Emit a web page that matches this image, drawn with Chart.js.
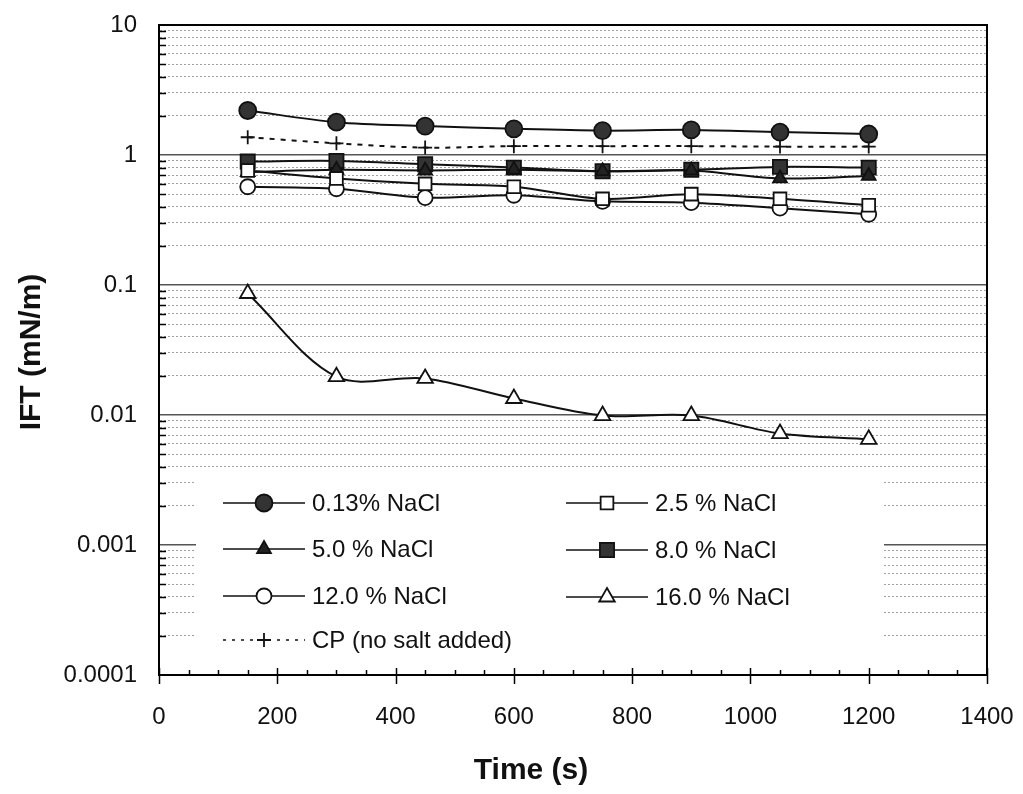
<!DOCTYPE html>
<html>
<head>
<meta charset="utf-8">
<script src="https://cdn.jsdelivr.net/npm/chart.js@4.4.1/dist/chart.umd.min.js"></script>
<style>
  html, body { margin: 0; padding: 0; background: #fff; }
  canvas { display: block; }
</style>
</head>
<body>
<canvas id="ift" width="1023" height="794"></canvas>
<script>
// time of measurement (s)
const times = [150, 300, 450, 600, 750, 900, 1050, 1200];

// IFT (mN/m) for each brine
const nacl013 = [2.20, 1.79, 1.67, 1.59, 1.54, 1.56, 1.50, 1.45];
const nacl25 = [0.76, 0.66, 0.60, 0.57, 0.46, 0.50, 0.46, 0.41];
const nacl50 = [0.74, 0.77, 0.76, 0.77, 0.75, 0.76, 0.66, 0.69];
const nacl80 = [0.89, 0.90, 0.85, 0.80, 0.75, 0.77, 0.81, 0.80];
const nacl120 = [0.57, 0.55, 0.47, 0.49, 0.44, 0.43, 0.39, 0.35];
const nacl160 = [0.086, 0.0197, 0.0191, 0.0134, 0.0099, 0.0099, 0.0072, 0.0065];
const cpNoSalt = [1.37, 1.23, 1.14, 1.17, 1.17, 1.17, 1.16, 1.16];

const seriesLabels = ['0.13% NaCl', '2.5 % NaCl', '5.0 % NaCl', '8.0 % NaCl',
  '12.0 % NaCl', '16.0 % NaCl', 'CP (no salt added)'];

// axis ticks
const xTickLabels = ['0', '200', '400', '600', '800', '1000', '1200', '1400'];
const yTickLabels = ['0.0001', '0.001', '0.01', '0.1', '1', '10'];
const yMinorSteps = [2, 3, 4, 5, 6, 7, 8, 9];

const FONT = '"Liberation Sans", Arial, sans-serif';
const INK = '#111';
const CLEAR = 'rgba(0,0,0,0)';

function pts(vals) {
  return times.map((t, i) => ({ x: t, y: vals[i] }));
}

// one dataset, style given per series
function mk(label, vals, style, fill, radius, dash) {
  return {
    label: label,
    data: pts(vals),
    borderColor: INK,
    borderWidth: 2,
    borderDash: dash || [],
    tension: 0.33,
    pointStyle: style,
    pointRadius: radius,
    pointBackgroundColor: fill,
    pointBorderColor: INK,
    pointBorderWidth: 1.8
  };
}

const datasets = [
  mk(seriesLabels[0], nacl013, 'circle', '#333', 8.5),
  mk(seriesLabels[1], nacl25, 'rect', '#fff', 9),
  mk(seriesLabels[2], nacl50, 'triangle', '#222', 8),
  mk(seriesLabels[3], nacl80, 'rect', '#333', 10),
  mk(seriesLabels[4], nacl120, 'circle', '#fff', 7.5),
  mk(seriesLabels[5], nacl160, 'triangle', '#fff', 9),
  mk(seriesLabels[6], cpNoSalt, 'cross', '#fff', 7, [5, 6])
];

// legend slots: [dataset index, column x of marker, row y]
const legendSlots = [
  [0, 264, 503], [2, 264, 549], [4, 264, 596], [6, 264, 640],
  [1, 607, 503], [3, 607, 550], [5, 607, 597]
];

function drawMarker(ctx, ds, x, y) {
  ctx.fillStyle = ds.pointBackgroundColor;
  ctx.strokeStyle = ds.pointBorderColor;
  ctx.lineWidth = ds.pointBorderWidth;
  Chart.helpers.drawPoint(ctx, {
    pointStyle: ds.pointStyle, radius: ds.pointRadius,
    borderWidth: ds.pointBorderWidth, rotation: 0
  }, x, y);
}

const decor = {
  id: 'decor',
  beforeDatasetsDraw(chart) {
    // legend sits on a white box that hides the grid
    const ctx = chart.ctx;
    ctx.save();
    ctx.fillStyle = '#fff';
    ctx.fillRect(196, 476, 688, 188);
    ctx.restore();
  },
  afterDatasetsDraw(chart) {
    const { ctx, chartArea: a, scales: { x, y } } = chart;
    ctx.save();

    // frame
    ctx.strokeStyle = '#000';
    ctx.lineWidth = 2;
    ctx.strokeRect(a.left, a.top, a.right - a.left, a.bottom - a.top);

    // x tick marks: major cross the axis, minor point inward
    ctx.lineWidth = 1.5;
    ctx.beginPath();
    for (let v = 0; v <= 1400; v += 50) {
      const px = Math.round(x.getPixelForValue(v)) + 0.5;
      if (v % 200 === 0) {
        ctx.moveTo(px, a.bottom - 7);
        ctx.lineTo(px, a.bottom + 9);
      } else {
        ctx.moveTo(px, a.bottom - 5);
        ctx.lineTo(px, a.bottom);
      }
    }
    // y minor tick marks point inward
    y.ticks.forEach(t => {
      if (t.major) return;
      const py = Math.round(y.getPixelForValue(t.value)) + 0.5;
      ctx.moveTo(a.left, py);
      ctx.lineTo(a.left + 7, py);
    });
    ctx.stroke();

    // legend
    ctx.font = '24px ' + FONT;
    ctx.textBaseline = 'middle';
    ctx.textAlign = 'left';
    legendSlots.forEach(([i, mx, my]) => {
      const ds = chart.data.datasets[i];
      ctx.save();
      ctx.strokeStyle = INK;
      ctx.lineWidth = 1.6;
      ctx.setLineDash(i === 6 ? [3, 6] : []);
      ctx.beginPath();
      ctx.moveTo(mx - 41, my);
      ctx.lineTo(mx + 41, my);
      ctx.stroke();
      ctx.setLineDash([]);
      drawMarker(ctx, ds, mx, my);
      ctx.restore();
      ctx.fillStyle = INK;
      ctx.fillText(ds.label, mx + 48, my + 1);
    });

    // axis titles
    ctx.font = 'bold 30px ' + FONT;
    ctx.textAlign = 'center';
    ctx.fillText('Time (s)', 531, 771);
    ctx.translate(32, 352);
    ctx.rotate(-Math.PI / 2);
    ctx.fillText('IFT (mN/m)', 0, 0);
    ctx.restore();
  }
};

new Chart(document.getElementById('ift'), {
  type: 'line',
  data: { datasets: datasets },
  options: {
    responsive: false,
    animation: false,
    devicePixelRatio: 1,
    layout: { padding: { top: 25, right: 36, left: 0, bottom: 0 } },
    plugins: { legend: { display: false }, tooltip: { enabled: false } },
    scales: {
      x: {
        type: 'linear',
        min: 0,
        max: 1400,
        afterBuildTicks: s => { s.ticks = xTickLabels.map(l => ({ value: Number(l) })); },
        afterFit: s => { s.height = 119; },
        // invisible tick marks give the label gap without padding the chart edge
        grid: { display: true, drawOnChartArea: false, drawTicks: true, tickLength: 28, tickColor: CLEAR },
        border: { display: true, color: '#000', width: 2 },
        ticks: {
          padding: 0,
          color: INK,
          font: { size: 24, family: FONT },
          maxRotation: 0,
          autoSkip: false,
          callback: v => {
            const lab = xTickLabels.find(l => Number(l) === v);
            return lab !== undefined ? lab : '';
          }
        }
      },
      y: {
        type: 'logarithmic',
        min: 0.0001,
        max: 10,
        afterBuildTicks: s => {
          const ticks = [];
          yTickLabels.forEach((lab, i) => {
            const v = Number(lab);
            ticks.push({ value: v, major: true });
            if (i < yTickLabels.length - 1) {
              yMinorSteps.forEach(m => ticks.push({ value: Number((m * v).toPrecision(3)), major: false }));
            }
          });
          s.ticks = ticks;
        },
        afterFit: s => { s.width = 159; },
        grid: {
          drawTicks: true,
          tickLength: 22,
          tickColor: CLEAR,
          color: c => (c.tick && c.tick.major ? '#555' : '#a0a0a0'),
          lineWidth: c => (c.tick && c.tick.major ? 1.5 : 1)
        },
        border: {
          display: true, color: '#000', width: 2,
          dash: c => (c.tick && !c.tick.major ? [2, 2] : [])
        },
        ticks: {
          padding: 0,
          color: INK,
          autoSkip: false,
          font: { size: 24, family: FONT },
          callback: v => {
            const lab = yTickLabels.find(l => Number(l) === v);
            return lab !== undefined ? lab : '';
          }
        }
      }
    }
  },
  plugins: [decor]
});
</script>
</body>
</html>
